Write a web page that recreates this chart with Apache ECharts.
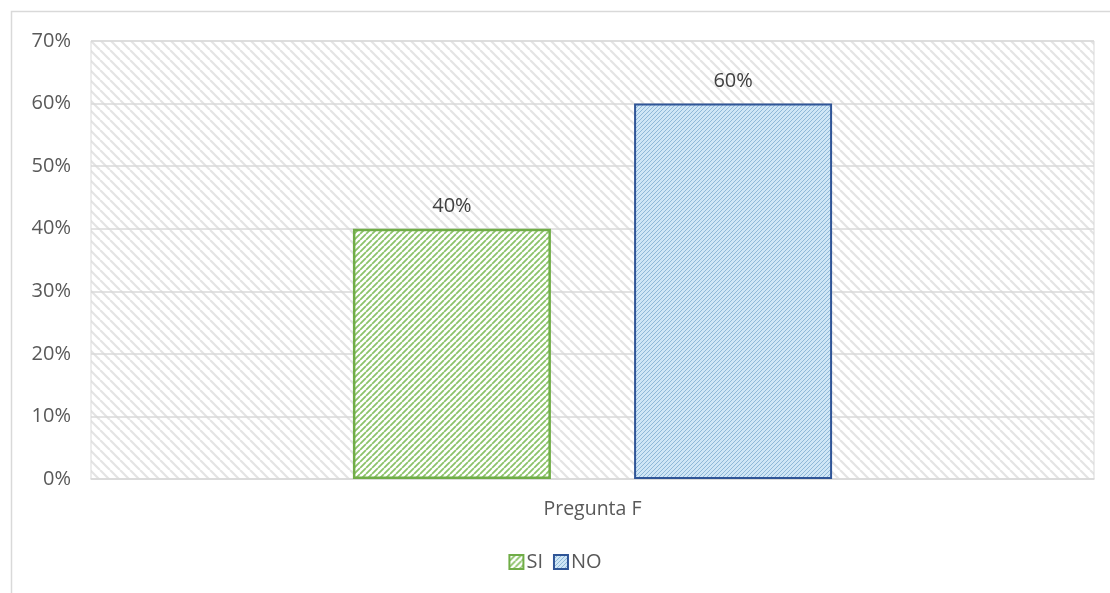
<!DOCTYPE html>
<html><head><meta charset="utf-8">
<script src="https://cdn.jsdelivr.net/npm/echarts@6/dist/echarts.min.js"></script>
<style>html,body{margin:0;padding:0;background:#fff}#c{width:1110px;height:593px}</style>
</head><body><div id="c"></div>
<script>
const categories = ['Pregunta F'];
const seriesNames = ['SI', 'NO'];
const siValues = [0.40];
const noValues = [0.60];
const yTicks = [0, 0.1, 0.2, 0.3, 0.4, 0.5, 0.6, 0.7];

function hatch(size, bg, fg, lw, dir) {
  const c = document.createElement('canvas');
  c.width = size; c.height = size;
  const g = c.getContext('2d');
  g.fillStyle = bg; g.fillRect(0, 0, size, size);
  g.strokeStyle = fg; g.lineWidth = lw;
  g.beginPath();
  for (let k = -1; k <= 1; k++) {
    if (dir === 'back') {
      g.moveTo(k * size, 0); g.lineTo(k * size + size, size);
    } else {
      g.moveTo(k * size, size); g.lineTo(k * size + size, 0);
    }
  }
  g.stroke();
  return c;
}
const bgPat = { image: hatch(10, '#ffffff', '#e4e4e4', 2.2, 'back'), repeat: 'repeat' };
const siPat = { image: hatch(6, '#ffffff', '#8cc36a', 1.8, 'fwd'), repeat: 'repeat' };
const noPat = { image: hatch(4, '#cfe6f6', '#8fb8d8', 1.0, 'fwd'), repeat: 'repeat' };

const FONT = 'Open Sans, Noto Sans, sans-serif';
const chart = echarts.init(document.getElementById('c'));
const labelStyle = {
  show: true, position: 'top', distance: 12, color: '#404040',
  fontSize: 20, fontFamily: FONT,
  formatter: p => Math.round(p.value * 100) + '%'
};
chart.setOption({
  animation: false,
  backgroundColor: '#ffffff',
  graphic: [{
    type: 'rect', z: -10,
    shape: { x: 11.5, y: 11.5, width: 1110, height: 600 },
    style: { fill: 'none', stroke: '#d9d9d9', lineWidth: 1.5 }
  }],
  grid: {
    left: 91, right: 16, top: 41, bottom: 114,
    show: true, backgroundColor: bgPat, borderColor: '#d9d9d9', borderWidth: 1
  },
  legend: {
    bottom: 16, left: 'center', itemWidth: 14, itemHeight: 14, itemGap: 10, icon: 'rect',
    textStyle: { color: '#595959', fontSize: 20, fontFamily: FONT, padding: [0, 0, 0, -2] },
    data: seriesNames
  },
  xAxis: {
    type: 'category', data: categories,
    axisLine: { lineStyle: { color: '#d9d9d9', width: 1.5 } },
    axisTick: { show: false },
    axisLabel: { color: '#595959', fontSize: 19.5, margin: 20, fontFamily: FONT }
  },
  yAxis: {
    type: 'value', min: 0, max: yTicks[yTicks.length - 1], interval: 0.1,
    axisLine: { show: false }, axisTick: { show: false },
    splitLine: { lineStyle: { color: '#d9d9d9', width: 1.5 } },
    axisLabel: { color: '#595959', fontSize: 20, margin: 20, fontFamily: FONT,
      formatter: v => Math.round(v * 100) + '%' }
  },
  series: [
    { name: seriesNames[0], type: 'bar', data: siValues, barWidth: 198, barGap: '42%',
      itemStyle: { color: siPat, borderColor: '#70ad47', borderWidth: 2.5 }, label: labelStyle },
    { name: seriesNames[1], type: 'bar', data: noValues, barWidth: 198,
      itemStyle: { color: noPat, borderColor: '#2f5597', borderWidth: 2 }, label: labelStyle }
  ]
});
</script></body></html>
